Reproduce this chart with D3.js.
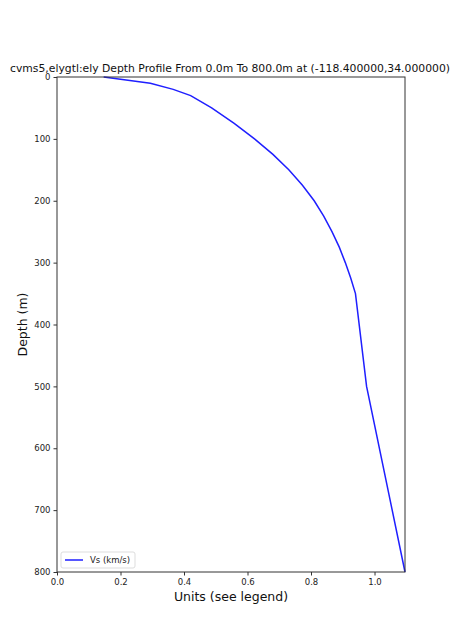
<!DOCTYPE html>
<html>
<head>
    <script src="https://cdn.jsdelivr.net/npm/d3@7"></script>
    <style>
        body { margin: 0; background: white; }
        svg { font-family: "DejaVu Sans", sans-serif; }
    </style>
</head>
<body>
    <svg width="450" height="643"></svg>
    <script>
        // depth (m) and Vs (km/s)
        const depths = [0, 10, 20, 30, 50, 75, 100, 125, 150, 175, 200, 225, 250, 275, 300, 325, 350, 500, 800];
        const vs = [0.147, 0.294, 0.366, 0.421, 0.487, 0.558, 0.622, 0.680, 0.730, 0.773, 0.810, 0.840, 0.866, 0.889, 0.908, 0.925, 0.940, 0.975, 1.096];
        const xTicks = [0.0, 0.2, 0.4, 0.6, 0.8, 1.0];
        const yTicks = [0, 100, 200, 300, 400, 500, 600, 700, 800];
        const title = "cvms5,elygtl:ely Depth Profile From 0.0m To 800.0m at (-118.400000,34.000000)";

        const svg = d3.select("svg");
        const plotL = 57, plotR = 405, plotT = 77, plotB = 572;

        const x = d3.scaleLinear().domain([0, d3.max(vs)]).range([plotL, plotR]);
        const y = d3.scaleLinear().domain([0, 800]).range([plotT, plotB]);

        const data = depths.map(function(d, i) { return {depth: d, v: vs[i]}; });

        svg.append("path")
            .datum(data)
            .attr("fill", "none")
            .attr("stroke", "#1f1fff")
            .attr("stroke-width", 1.5)
            .attr("d", d3.line().x(d => x(d.v)).y(d => y(d.depth)));

        // frame
        svg.append("rect")
            .attr("x", plotL).attr("y", plotT)
            .attr("width", plotR - plotL).attr("height", plotB - plotT)
            .attr("fill", "none").attr("stroke", "#333").attr("stroke-width", 1);

        const xAxis = svg.append("g")
            .attr("transform", "translate(0," + plotB + ")")
            .call(d3.axisBottom(x).tickValues(xTicks).tickFormat(d3.format(".1f")).tickSize(3.5).tickPadding(3));
        const yAxis = svg.append("g")
            .attr("transform", "translate(" + plotL + ",0)")
            .call(d3.axisLeft(y).tickValues(yTicks).tickSize(3.5).tickPadding(3));

        [xAxis, yAxis].forEach(function(g) {
            g.select(".domain").remove();
            g.selectAll("line").attr("stroke", "#333");
            g.selectAll("text").attr("fill", "#222").style("font-size", "8.5px").style("font-family", "DejaVu Sans");
        });

        svg.append("text")
            .attr("x", 230).attr("y", 71.5)
            .attr("text-anchor", "middle")
            .style("font-size", "10.8px").attr("fill", "#111")
            .text(title);

        svg.append("text")
            .attr("x", (plotL + plotR) / 2).attr("y", 601)
            .attr("text-anchor", "middle")
            .style("font-size", "12.5px").attr("fill", "#111")
            .text("Units (see legend)");

        svg.append("text")
            .attr("transform", "translate(27," + (plotT + plotB) / 2 + ") rotate(-90)")
            .attr("text-anchor", "middle")
            .style("font-size", "12.5px").attr("fill", "#111")
            .text("Depth (m)");

        // legend
        const lg = svg.append("g").attr("transform", "translate(61,552)");
        lg.append("rect")
            .attr("width", 74).attr("height", 16).attr("rx", 2)
            .attr("fill", "white").attr("stroke", "#ddd");
        lg.append("line")
            .attr("x1", 4).attr("x2", 22).attr("y1", 8).attr("y2", 8)
            .attr("stroke", "#1f1fff").attr("stroke-width", 1.5);
        lg.append("text")
            .attr("x", 29).attr("y", 11)
            .style("font-size", "8.5px").attr("fill", "#222")
            .text("Vs (km/s)");
    </script>
</body>
</html>
